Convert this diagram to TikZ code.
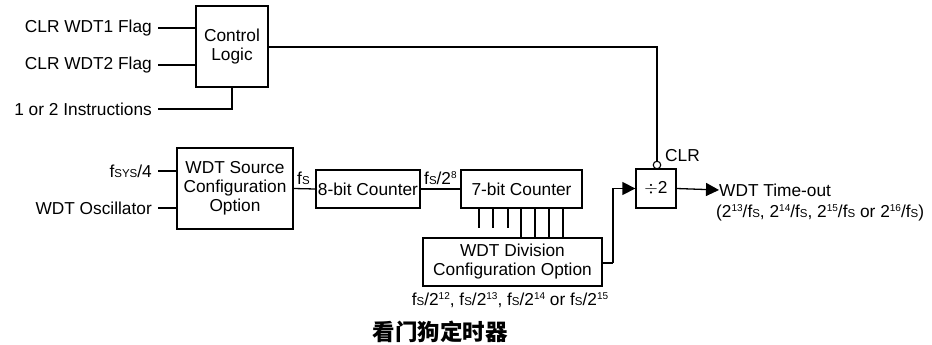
\documentclass[tikz,border=0pt]{standalone}
\usepackage{fontspec}
\setmainfont{Liberation Sans}
\newfontfamily\cjk{Noto Sans CJK SC}
\usetikzlibrary{arrows.meta}
\newcommand{\fS}{f{\fontsize{11.5}{11.5}\selectfont S}}
\newcommand{\sps}[1]{\raisebox{5.5pt}{\fontsize{10}{10}\selectfont #1}}
\begin{document}
\begin{tikzpicture}[x=1pt,y=-1pt,
  every node/.style={font=\fontsize{17.3}{19}\selectfont, inner sep=0pt},
  blk/.style={draw, line width=1.3pt, align=center},
  wire/.style={line width=1.3pt},
  arr/.style={line width=1.3pt, -{Triangle[length=13pt,width=13pt]}},
  lbl/.style={anchor=east}]
\useasboundingbox (0,0) rectangle (932,345);
% blocks
\node[blk, minimum width=72pt, minimum height=81pt] (ctl) at (232,46.5) {Control\\Logic};
\node[blk, minimum width=116pt, minimum height=81pt] (src) at (235,188.5) {WDT Source\\Configuration\\Option};
\node[blk, minimum width=104pt, minimum height=38pt] (c8) at (368,189) {8-bit Counter};
\node[blk, minimum width=121pt, minimum height=38pt] (c7) at (521.5,189) {7-bit Counter};
\node[blk, minimum width=179pt, minimum height=48pt] (div) at (512.5,262) {WDT Division\\Configuration Option};
\node[blk, minimum width=40pt, minimum height=39pt] (d2) at (656,188.5) {\(\div\)2};
% left labels
\node[lbl] (t1) at (152,28) {CLR WDT1 Flag};
\node[lbl] (t2) at (152,65) {CLR WDT2 Flag};
\node[lbl] (t3) at (152,109) {1 or 2 Instructions};
\node[lbl] (t4) at (152,171) {f{\fontsize{11.5}{11.5}\selectfont SYS}/4};
\node[lbl] (t5) at (152,208) {WDT Oscillator};
% input wires
\draw[wire] ([xshift=6pt]t1.east) -- (ctl.west |- t1.east);
\draw[wire] ([xshift=6pt]t2.east) -- (ctl.west |- t2.east);
\draw[wire] ([xshift=6pt]t3.east) -- (ctl.south |- t3.east) -- (ctl.south);
\draw[wire] ([xshift=6pt]t4.east) -- (src.west |- t4.east);
\draw[wire] ([xshift=6pt]t5.east) -- (src.west |- t5.east);
% chain
\draw[wire] (src.east) -- (c8.west);
\node[anchor=base west] (lfs) at (297,184) {\fS};
\draw[wire] (c8.east) -- (c7.west);
\node[anchor=base west] (lfs8) at (424,184) {\fS/2\sps{8}};
% ticks
\foreach \x in {479,493,508} \draw[wire] (c7.south -| \x,0) -- ++(0,19);
\foreach \x in {521,535,549,563} \draw[wire] (c7.south -| \x,0) -- (div.north -| \x,0);
\node[anchor=base] (lsel) at (510,305) {\fS/2\sps{12}, \fS/2\sps{13}, \fS/2\sps{14} or \fS/2\sps{15}};
% to divider
\coordinate (bend) at (613,263);
\draw[wire] (div.east |- bend) -- (bend);
\draw[arr] (bend) -- (bend |- d2.west) -- (d2.west);
% CLR
\node[draw, circle, line width=1.1pt, minimum size=7.5pt] (clr) at (657,165) {};
\draw[wire] (ctl.east |- 0,47) -- (clr.north |- 0,47) -- (clr.north);
\node[anchor=base west] (lclr) at (665,161) {CLR};
% output
\node[anchor=west] (out) at (719,190) {WDT Time-out};
\draw[arr] (d2.east) -- (out.west);
\node[anchor=west] (out2) at (716,213) {(2\sps{13}/\fS, 2\sps{14}/\fS, 2\sps{15}/\fS{} or 2\sps{16}/\fS)};
% title
\node (title) at (440,332) {\fontsize{22.5}{24}\selectfont\cjk\bfseries 看门狗定时器};
\end{tikzpicture}
\end{document}
